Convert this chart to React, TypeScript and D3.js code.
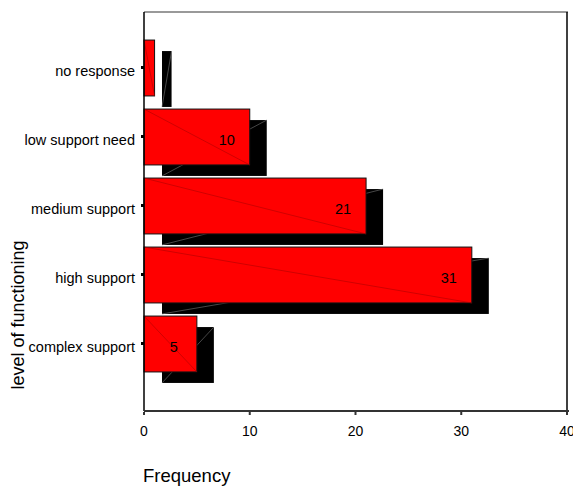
import React from "react";
import * as d3 from "d3";

const categories = ["no response", "low support need", "medium support", "high support", "complex support"];
const frequencies = [1, 10, 21, 31, 5];
const xTicks = [0, 10, 20, 30, 40];

const W = 573;
const H = 486;
const left = 144;
const right = 567;
const top = 12;
const bottom = 411;
const shadowDx = 17;
const shadowDy = 11;

export default function App() {
  const x = d3.scaleLinear().domain([0, 40]).range([left, right]);
  const y = d3
    .scaleBand<string>()
    .domain(categories)
    .range([33.5, 378.5])
    .paddingInner(0.19)
    .paddingOuter(0.095);
  const bh = y.bandwidth();
  const font = "Liberation Sans, Arial, sans-serif";

  return (
    <svg width={W} height={H} style={{ position: "absolute", left: 0, top: 0 }} fontFamily={font}>
      <rect x={0} y={0} width={W} height={H} fill="#fff" />
      {/* frame */}
      <line x1={left} x2={right + 1} y1={top} y2={top} stroke="#777" strokeWidth={1.5} />
      <line x1={right} x2={right} y1={top} y2={bottom} stroke="#000" strokeWidth={1.5} />
      {/* shadows */}
      {categories.map((c, i) => {
        const y0 = (y(c) ?? 0) + shadowDy;
        const x0 = left + shadowDx + 1;
        const x1 = x(frequencies[i]) + shadowDx;
        return (
          <g key={"s" + c}>
            <rect x={x0} y={y0} width={x1 - x0} height={bh} fill="#000" />
            <line x1={x0} y1={y0 + bh} x2={x1} y2={y0} stroke="#777" strokeWidth={0.6} />
          </g>
        );
      })}
      {/* red bars */}
      {categories.map((c, i) => {
        const y0 = y(c) ?? 0;
        const x1 = x(frequencies[i]);
        return (
          <g key={"b" + c}>
            <rect x={left} y={y0} width={x1 - left} height={bh} fill="#ff0000" stroke="#111" strokeWidth={1} />
            <line x1={left} y1={y0} x2={x1} y2={y0 + bh} stroke="#b00000" strokeWidth={0.6} />
            {frequencies[i] >= 3 && (
              <text x={x1 - 23} y={y0 + bh / 2 + 8} textAnchor="middle" fontSize={14.5} fill="#000">
                {frequencies[i]}
              </text>
            )}
          </g>
        );
      })}
      {/* y axis */}
      <line x1={left} x2={left} y1={top} y2={bottom} stroke="#000" strokeWidth={1.5} />
      {categories.map((c) => {
        const cy = (y(c) ?? 0) + bh / 2;
        return (
          <g key={"t" + c}>
            <rect x={left - 3} y={cy - 2} width={3} height={3} fill="#000" />
            <text x={left - 9} y={cy + 8} textAnchor="end" fontSize={14.5} fill="#000">
              {c}
            </text>
          </g>
        );
      })}
      {/* x axis */}
      <line x1={left} x2={right + 2} y1={bottom} y2={bottom} stroke="#333" strokeWidth={2} />
      {xTicks.map((t) => (
        <g key={"x" + t}>
          <rect x={x(t) - 1} y={bottom + 1} width={2} height={3} fill="#333" />
          <text x={x(t)} y={bottom + 25} textAnchor="middle" fontSize={14} fill="#000">
            {t}
          </text>
        </g>
      ))}
      <text x={143} y={482} fontSize={18.5} fill="#000">
        Frequency
      </text>
      <text
        transform={`translate(24, 315) rotate(-90)`}
        textAnchor="middle"
        fontSize={18}
        fill="#000"
      >
        level of functioning
      </text>
    </svg>
  );
}
